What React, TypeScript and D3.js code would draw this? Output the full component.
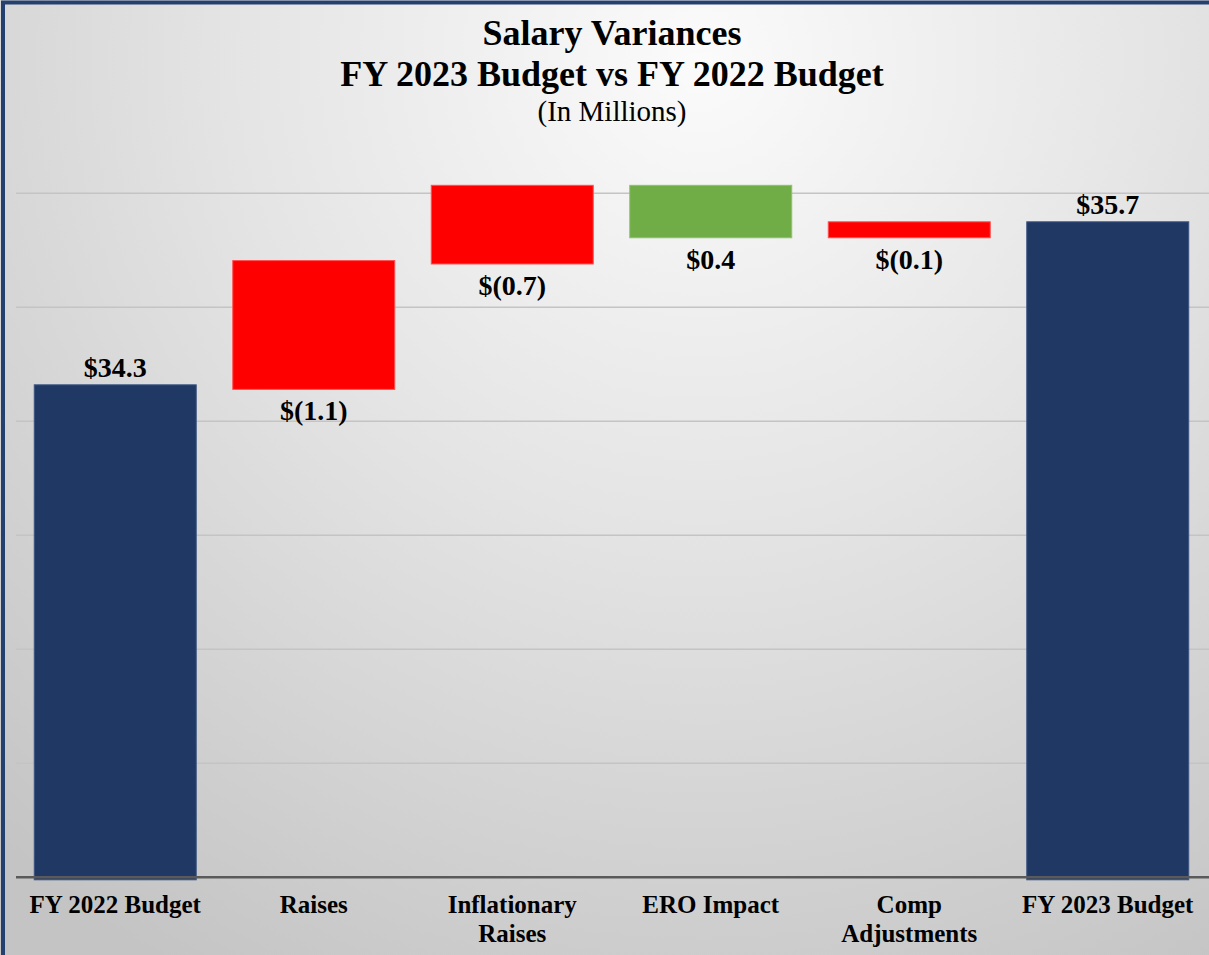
import { useEffect, useRef } from "react"
import * as d3 from "d3"

// chart data
const categories = ["FY 2022 Budget", "Raises", "Inflationary Raises", "ERO Impact", "Comp Adjustments", "FY 2023 Budget"]
const categoryLines = [["FY 2022 Budget"], ["Raises"], ["Inflationary", "Raises"], ["ERO Impact"], ["Comp", "Adjustments"], ["FY 2023 Budget"]]
const barKinds = ["total", "increase", "increase", "decrease", "increase", "total"]
const barStart = [0, 34.28, 35.38, 36.07, 35.61, 0]
const barEnd = [34.32, 35.41, 36.07, 35.61, 35.75, 35.75]
const labelValues = [34.3, -1.1, -0.7, 0.4, -0.1, 35.7]
const gridTicks = [31, 32, 33, 34, 35, 36]

const kindColor: Record<string, string> = {
  total: "#203864",
  increase: "#ff0000",
  decrease: "#70ad47",
}
const kindStroke: Record<string, string> = {
  total: "#3d5683",
  increase: "#ff5050",
  decrease: "#8fc06c",
}

const WIDTH = 1209
const HEIGHT = 955
const FONT = "'Liberation Serif', 'Times New Roman', serif"

const fmt = (v: number) => (v < 0 ? `$(${Math.abs(v).toFixed(1)})` : `$${v.toFixed(1)}`)

const App = () => {
  const svgRef = useRef<SVGSVGElement | null>(null)

  useEffect(() => {
    document.body.style.margin = "0"
    if (!svgRef.current) return
    const svg = d3.select(svgRef.current)
    svg.selectAll("*").remove()

    // background
    const defs = svg.append("defs")
    const grad = defs
      .append("radialGradient")
      .attr("id", "bg")
      .attr("gradientUnits", "userSpaceOnUse")
      .attr("cx", 700)
      .attr("cy", 60)
      .attr("r", 1050)
    grad.append("stop").attr("offset", "0%").attr("stop-color", "#fbfbfb")
    grad.append("stop").attr("offset", "45%").attr("stop-color", "#e4e4e4")
    grad.append("stop").attr("offset", "100%").attr("stop-color", "#c4c4c4")

    svg.append("rect").attr("width", WIDTH).attr("height", HEIGHT).attr("fill", "url(#bg)")

    const x = d3.scaleBand<string>().domain(categories).range([16, 1207]).paddingInner(0.184).paddingOuter(0.092)
    const y = d3.scaleLinear().domain([30, 36]).range([877.3, 193.3])
    const yMin = y.domain()[0]

    // gridlines
    svg
      .append("g")
      .selectAll("line")
      .data(gridTicks)
      .join("line")
      .attr("x1", 16)
      .attr("x2", WIDTH)
      .attr("y1", (d) => y(d))
      .attr("y2", (d) => y(d))
      .attr("stroke", "#c4c4c4")
      .attr("stroke-width", 1.5)

    const data = categories.map((c, i) => ({
      category: c,
      kind: barKinds[i],
      lo: Math.max(Math.min(barStart[i], barEnd[i]), yMin),
      hi: Math.max(barStart[i], barEnd[i]),
      label: labelValues[i],
      lines: categoryLines[i],
    }))

    // bars
    svg
      .append("g")
      .selectAll("rect")
      .data(data)
      .join("rect")
      .attr("x", (d) => x(d.category) as number)
      .attr("width", x.bandwidth())
      .attr("y", (d) => y(d.hi))
      .attr("height", (d) => y(d.lo) - y(d.hi) + (d.kind === "total" ? 2.5 : 0))
      .attr("fill", (d) => kindColor[d.kind])
      .attr("stroke", (d) => kindStroke[d.kind])
      .attr("stroke-width", 1)

    // axis line
    svg
      .append("line")
      .attr("x1", 16)
      .attr("x2", WIDTH)
      .attr("y1", y(yMin))
      .attr("y2", y(yMin))
      .attr("stroke", "#5a5a5a")
      .attr("stroke-width", 2.5)

    // data labels
    svg
      .append("g")
      .selectAll("text")
      .data(data)
      .join("text")
      .attr("x", (d) => (x(d.category) as number) + x.bandwidth() / 2)
      .attr("y", (d) => (d.kind === "total" ? y(d.hi) - 8 : y(d.lo) + 31))
      .attr("text-anchor", "middle")
      .attr("font-family", FONT)
      .attr("font-weight", "bold")
      .attr("font-size", 28)
      .attr("fill", "#000")
      .text((d) => fmt(d.label))

    // category labels
    const cat = svg
      .append("g")
      .selectAll("text")
      .data(data)
      .join("text")
      .attr("x", (d) => (x(d.category) as number) + x.bandwidth() / 2)
      .attr("y", 912.7)
      .attr("text-anchor", "middle")
      .attr("font-family", FONT)
      .attr("font-weight", "bold")
      .attr("font-size", 25)
      .attr("fill", "#000")
    cat
      .selectAll("tspan")
      .data((d) => d.lines)
      .join("tspan")
      .attr("x", function () {
        return (this.parentNode as SVGTextElement).getAttribute("x")
      })
      .attr("dy", (_, i) => (i === 0 ? 0 : 29))
      .text((d) => d)

    // titles
    const titles = [
      { text: "Salary Variances", y: 45, size: 36, weight: "bold" },
      { text: "FY 2023 Budget vs FY 2022 Budget", y: 86, size: 36, weight: "bold" },
      { text: "(In Millions)", y: 121, size: 29, weight: "normal" },
    ]
    svg
      .append("g")
      .selectAll("text")
      .data(titles)
      .join("text")
      .attr("x", 612)
      .attr("y", (d) => d.y)
      .attr("text-anchor", "middle")
      .attr("font-family", FONT)
      .attr("font-weight", (d) => d.weight)
      .attr("font-size", (d) => d.size)
      .attr("fill", "#000")
      .text((d) => d.text)

    // frame (left + top edges)
    svg
      .append("path")
      .attr("d", `M3,${HEIGHT} L3,2.5 L${WIDTH},2.5`)
      .attr("fill", "none")
      .attr("stroke", "#23406e")
      .attr("stroke-width", 4)
  }, [])

  return <svg ref={svgRef} width={WIDTH} height={HEIGHT} style={{ display: "block" }} />
}

export default App
